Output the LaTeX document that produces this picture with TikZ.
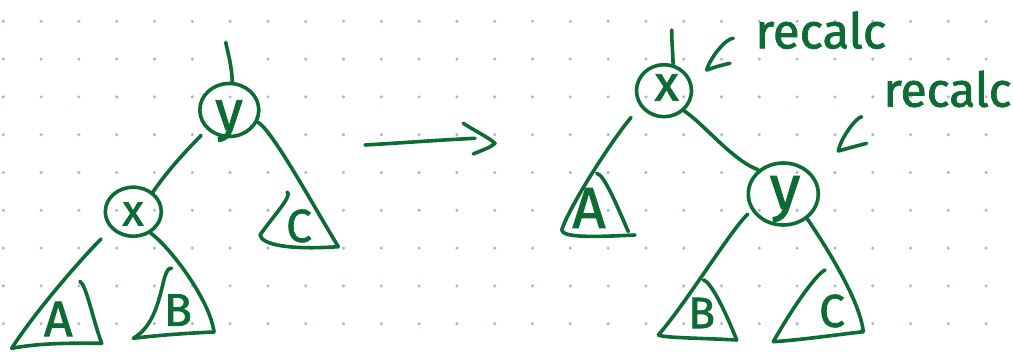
\documentclass[tikz,border=0pt]{standalone}
\usepackage{fontspec}
\setmainfont{Fira Sans}
\newfontfamily\medfont{Fira Sans}[FakeBold=1.6]
\usetikzlibrary{shapes.geometric}
\definecolor{inkc}{RGB}{12,108,52}
\definecolor{dotc}{RGB}{170,182,212}
\begin{document}
\begin{tikzpicture}[x=1pt,y=-1pt,
  ink/.style={draw=inkc, line width=3.6pt, line cap=round, line join=round},
  circ/.style={ellipse, draw=inkc, line width=3.6pt, inner sep=0pt},
  lett/.style={text=inkc, inner sep=0pt},
]
\useasboundingbox (0,0) rectangle (1013,352);
\fill[white] (0,0) rectangle (1013,352);
\foreach \i in {0,...,26}{\foreach \j in {0,...,8}{\fill[dotc] (3.3+37.8*\i,21.3+37.8*\j) circle (1.7pt);}}

% ---------- left tree ----------
\node[circ, minimum width=59pt, minimum height=53pt] (yL) at (229.3,110) {};
\node[circ, minimum width=56pt, minimum height=49pt] (xL) at (133.3,211.7) {};
\node[lett, font=\medfont\fontsize{56}{56}\selectfont] (yLt) at (229,121) {y};
\node[lett, font=\medfont\fontsize{44}{44}\selectfont] (xLt) at (133,214) {x};
\node[lett, font=\medfont\fontsize{50}{50}\selectfont] (aLt) at (58.3,319) {A};
\node[lett, font=\medfont\fontsize{46}{46}\selectfont] (bLt) at (178,310) {B};
\node[lett, font=\medfont\fontsize{46}{46}\selectfont] (cLt) at (299,226) {C};

\coordinate (topL) at (225.7,42.3);
\coordinate (aL1) at (11.7,348.3);
\coordinate (aL2) at (101.7,343.3);
\coordinate (aL3) at (80,281.5);
\coordinate (bL1) at (133.3,338.3);
\coordinate (bL2) at (214,332);
\coordinate (bL3) at (171.7,268.3);
\coordinate (cL1) at (260,235);
\coordinate (cL2) at (338.3,246.7);
\coordinate (cL3) at (287,192);

\draw[ink] (topL) .. controls (228.5,55) and (232,68) .. (yL.84);
\draw[ink, shorten <=8pt] (yL.221) .. controls (185,152) and (168,170) .. (xL.45);
\draw[ink, shorten <=14pt] (xL.218) .. controls (80,260) and (35,312) .. (aL1);
\draw[ink] (aL1) .. controls (40,343) and (70,343) .. (aL2);
\draw[ink] (aL3) .. controls (86,284) and (93,320) .. (aL2);
\draw[ink] (xL.309) .. controls (170,247) and (210,300) .. (bL2);
\draw[ink] (bL1) .. controls (160,335) and (190,333) .. (bL2);
\draw[ink] (bL3) .. controls (160,266) and (165,320) .. (bL1);
\draw[ink] (yL.337) .. controls (272,130) and (310,200) .. (cL2);
\draw[ink] (cL1) .. controls (262,245) and (290,250) .. (cL2);
\draw[ink] (cL3) .. controls (293,195) and (275,214) .. (cL1);

% ---------- arrow ----------
\coordinate (arS) at (365,145);
\coordinate (arE) at (475,138.3);
\coordinate (arH1) at (463.3,123.3);
\coordinate (arT) at (495,143.3);
\coordinate (arH2) at (473.3,154);
\draw[ink] (arS) .. controls (400,143) and (440,140) .. (arE);
\draw[ink] (arH1) .. controls (475,131) and (488,137) .. (arT) .. controls (490,148) and (480,151) .. (arH2);

% ---------- right tree ----------
\node[circ, minimum width=55pt, minimum height=52pt] (xR) at (664,90.7) {};
\node[circ, minimum width=70pt, minimum height=62pt] (yR) at (783.3,194) {};
\node[lett, font=\medfont\fontsize{50}{50}\selectfont] (xRt) at (666.7,87.5) {x};
\node[lett, font=\medfont\fontsize{62}{62}\selectfont] (yRt) at (785,199) {y};
\node[lett, font=\medfont\fontsize{58}{58}\selectfont] (aRt) at (589,208) {A};
\node[lett, font=\medfont\fontsize{44}{44}\selectfont] (bRt) at (701.7,313) {B};
\node[lett, font=\medfont\fontsize{46}{46}\selectfont] (cRt) at (832,311) {C};
\node[lett, font=\medfont\fontsize{49}{49}\selectfont, anchor=base] (rc1) at (820.8,48.3) {recalc};
\node[lett, font=\medfont\fontsize{48}{48}\selectfont, anchor=base] (rc2) at (947.5,106.7) {recalc};

\coordinate (topR) at (671.7,30);
\coordinate (r1s) at (733.3,38.3);
\coordinate (r1t) at (706.7,70);
\coordinate (r1h) at (730,63.3);
\coordinate (r2s) at (861.7,116.7);
\coordinate (r2t) at (838.3,151);
\coordinate (r2h) at (866.7,143.3);
\coordinate (aR1) at (561.7,230);
\coordinate (aR2) at (635,235);
\coordinate (aR3) at (596.7,173.3);
\coordinate (aR4) at (628.3,231.7);
\coordinate (bR1) at (658.3,335);
\coordinate (bR2) at (736.7,340);
\coordinate (bR3) at (703.3,280);
\coordinate (cR1) at (773.3,341.7);
\coordinate (cR2) at (863.3,331.7);
\coordinate (cR3) at (825,270);

\draw[ink] (topR) .. controls (671.7,42) and (673,55) .. (xR.71);
\draw[ink] (r1s) .. controls (726,38) and (710,58) .. (r1t) .. controls (715,67) and (722,65) .. (r1h);
\draw[ink] (r2s) .. controls (855,118) and (840,140) .. (r2t) .. controls (846,149) and (856,146) .. (r2h);
\draw[ink, shorten <=14pt] (xR.214) .. controls (612,140) and (570,205) .. (aR1);
\draw[ink] (aR1) .. controls (563,238) and (595,237) .. (aR2);
\draw[ink] (aR3) .. controls (604,174) and (618,208) .. (aR4);
\draw[ink] (xR.315) .. controls (705,125) and (732,160) .. (yR.136);
\draw[ink, shorten <=5pt] (yR.208) .. controls (732,228) and (685,305) .. (bR1);
\draw[ink] (bR1) .. controls (665,338) and (700,338) .. (bR2);
\draw[ink] (bR3) .. controls (712,282) and (728,318) .. (bR2);
\draw[ink] (yR.314) .. controls (825,245) and (860,300) .. (cR2);
\draw[ink] (cR1) .. controls (800,340) and (835,335) .. (cR2);
\draw[ink] (cR3) .. controls (815,275) and (790,312) .. (cR1);
\end{tikzpicture}
\end{document}
